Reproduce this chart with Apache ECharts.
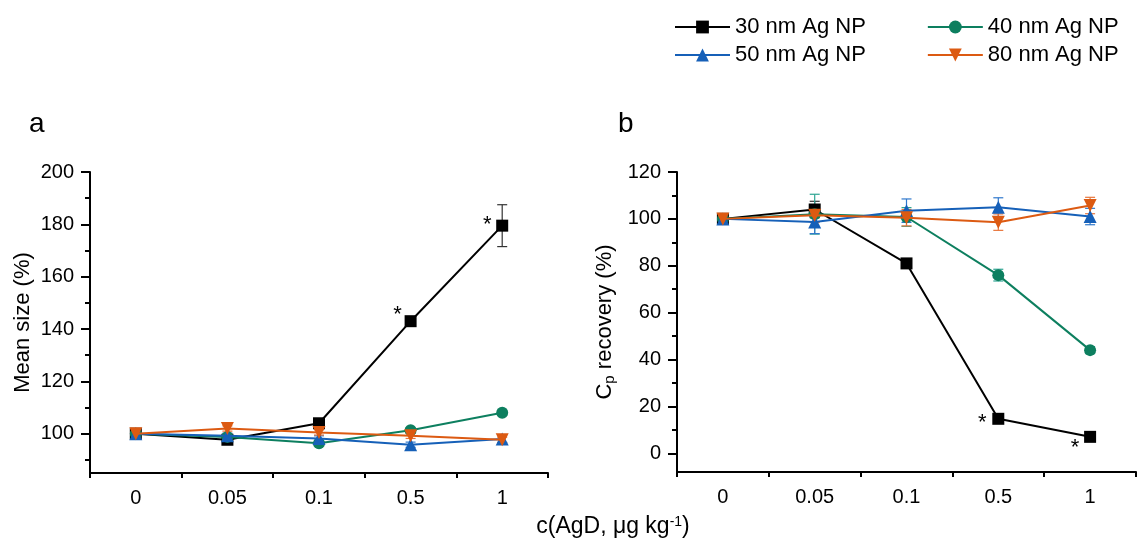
<!DOCTYPE html>
<html><head><meta charset="utf-8">
<script src="https://cdn.jsdelivr.net/npm/echarts@6/dist/echarts.min.js"></script>
<style>html,body{margin:0;padding:0;background:#fff}#c{width:1137px;height:545px}</style>
</head><body><div id="c"></div>
<script>
// ---------- data ----------
const categories = ['0', '0.05', '0.1', '0.5', '1'];
const seriesNames = ['30 nm Ag NP', '40 nm Ag NP', '50 nm Ag NP', '80 nm Ag NP'];

// panel a: Mean size (%)
const sizeNP30 = [100, 97.7, 104, 143, 179.5];
const sizeNP40 = [100, 98.8, 96.4, 101.3, 108];
const sizeNP50 = [100, 99.2, 98.2, 95.8, 98];
const sizeNP80 = [100, 102, 100.5, 99.2, 97.7];
const sizeErr30 = [1, 1, 1.5, 1.5, 8];
const sizeErr40 = [1, 1, 1, 1, 1];
const sizeErr50 = [1.5, 1, 1, 1, 1.5];
const sizeErr80 = [1.5, 1, 1, 1, 1];

// panel b: Cp recovery (%)
const recNP30 = [100, 104, 81, 14.7, 7];
const recNP40 = [100, 102, 100.8, 76, 44];
const recNP50 = [100, 98.7, 103.5, 105, 101];
const recNP80 = [100, 101.5, 100.5, 98.6, 105.7];
const recErr30 = [1.5, 3.5, 1.5, 1.5, 1];
const recErr40 = [1.5, 8.5, 4, 2.5, 1.5];
const recErr50 = [2, 5, 5, 4, 3.5];
const recErr80 = [2, 3, 3.5, 3.5, 3.5];

// axes
const sizeRange = [85, 200];
const sizeTicks = [100, 120, 140, 160, 180, 200];
const sizeMinorTicks = [90, 110, 130, 150, 170, 190];
const recRange = [-8, 120];
const recTicks = [0, 20, 40, 60, 80, 100, 120];
const recMinorTicks = [10, 30, 50, 70, 90, 110];

// significance marks (indices of the 30 nm series)
const sigA = [3, 4];
const sigB = [3, 4];

// ---------- styling ----------
const FONT = "'Liberation Sans', Arial, sans-serif";
const colors = ['#000000', '#0d7f5f', '#1660b8', '#dc5a12'];
const errColors = ['#333333', '#2ea593', '#2f78cc', '#e8763c'];
const symbols = ['rect', 'circle', 'triangle', 'triangle'];
const rotations = [0, 0, 0, 180];
const symSizes = [12, 12, 13, 13];

const chart = echarts.init(document.getElementById('c'), null, {renderer: 'canvas'});

function xAxes(grid) {
  return [
    {type: 'category', gridIndex: grid, position: 'bottom', data: categories, boundaryGap: true,
     axisLine: {onZero: false, lineStyle: {color: '#000', width: 2}},
     axisTick: {alignWithLabel: true, length: 9, lineStyle: {color: '#000', width: 2}},
     axisLabel: {color: '#000', fontSize: 20, fontFamily: FONT, margin: 15},
     splitLine: {show: false}},
    {type: 'category', gridIndex: grid, position: 'bottom', data: categories, boundaryGap: true,
     axisLine: {show: false, onZero: false},
     axisTick: {show: true, alignWithLabel: false, length: 5, lineStyle: {color: '#000', width: 2}},
     axisLabel: {show: false}, splitLine: {show: false}}
  ];
}
function yAxes(grid, range, ticks, minor, name, gap, rich) {
  return [
    {type: 'value', gridIndex: grid, position: 'left', min: range[0], max: range[1],
     name: name, nameLocation: 'middle', nameGap: gap, nameRotate: 90,
     nameTextStyle: {color: '#000', fontSize: 22, fontFamily: FONT, rich: rich},
     axisLine: {show: true, onZero: false, lineStyle: {color: '#000', width: 2}},
     axisTick: {show: true, length: 9, customValues: ticks, lineStyle: {color: '#000', width: 2}},
     axisLabel: {color: '#000', fontSize: 20, fontFamily: FONT, margin: 16, customValues: ticks},
     splitLine: {show: false}},
    {type: 'value', gridIndex: grid, position: 'left', min: range[0], max: range[1],
     axisLine: {show: false, onZero: false},
     axisTick: {show: true, length: 5, customValues: minor, lineStyle: {color: '#000', width: 2}},
     axisLabel: {show: false}, splitLine: {show: false}}
  ];
}

function errRender(params, api) {
  const x = api.value(0), lo = api.value(1), hi = api.value(2);
  const p1 = api.coord([x, hi]), p2 = api.coord([x, lo]);
  const w = 5;
  const st = {stroke: api.visual('color'), lineWidth: 1.2};
  return {type: 'group', children: [
    {type: 'line', shape: {x1: p1[0], y1: p1[1], x2: p2[0], y2: p2[1]}, style: st},
    {type: 'line', shape: {x1: p1[0] - w, y1: p1[1], x2: p1[0] + w, y2: p1[1]}, style: st},
    {type: 'line', shape: {x1: p2[0] - w, y1: p2[1], x2: p2[0] + w, y2: p2[1]}, style: st}
  ]};
}

function panelSeries(grid, values, errs, sig, sigOffsets) {
  const out = [];
  values.forEach((vals, k) => {
    out.push({
      type: 'custom', xAxisIndex: grid * 2, yAxisIndex: grid * 2, renderItem: errRender,
      itemStyle: {color: errColors[k]}, z: 2 + k, silent: true,
      encode: {x: 0, y: [1, 2]},
      data: vals.map((v, i) => [i, v - errs[k][i], v + errs[k][i]])
    });
  });
  values.forEach((vals, k) => {
    out.push({
      type: 'line', name: seriesNames[k], xAxisIndex: grid * 2, yAxisIndex: grid * 2,
      symbol: symbols[k], symbolSize: symSizes[k], symbolRotate: rotations[k],
      showAllSymbol: true,
      lineStyle: {color: colors[k], width: 2}, itemStyle: {color: colors[k]},
      z: 10 + k,
      data: vals.map((v, i) => {
        const si = k === 0 ? sig.indexOf(i) : -1;
        if (si < 0) return v;
        return {value: v, label: {show: true, formatter: '*', position: 'inside',
          offset: sigOffsets[si], color: '#000', fontSize: 22, fontFamily: FONT}};
      })
    });
  });
  return out;
}

const legendCommon = {itemWidth: 55, itemHeight: 16, itemGap: 61, selectedMode: false,
  textStyle: {fontSize: 22, color: '#000', fontFamily: FONT}};

const option = {
  animation: false,
  backgroundColor: '#fff',
  textStyle: {fontFamily: FONT},
  grid: [
    {left: 90, top: 172, width: 458, height: 301, containLabel: false},
    {left: 677, top: 172, width: 459, height: 300, containLabel: false}
  ],
  legend: [
    Object.assign({data: [seriesNames[0], seriesNames[1]], left: 669, top: 11}, legendCommon),
    Object.assign({data: [seriesNames[2], seriesNames[3]], left: 669, top: 39}, legendCommon)
  ],
  xAxis: [...xAxes(0), ...xAxes(1)],
  yAxis: [
    ...yAxes(0, sizeRange, sizeTicks, sizeMinorTicks, 'Mean size (%)', 56, {}),
    ...yAxes(1, recRange, recTicks, recMinorTicks, '{n|C}{s|p}{n| recovery (%)}', 60,
      {n: {fontSize: 22, color: '#000', fontFamily: FONT},
       s: {fontSize: 15, color: '#000', fontFamily: FONT, padding: [9, 0, 0, 0]}})
  ],
  series: [
    ...panelSeries(0, [sizeNP30, sizeNP40, sizeNP50, sizeNP80],
      [sizeErr30, sizeErr40, sizeErr50, sizeErr80], sigA, [[-13, -6], [-15, -1]]),
    ...panelSeries(1, [recNP30, recNP40, recNP50, recNP80],
      [recErr30, recErr40, recErr50, recErr80], sigB, [[-16, 4], [-15, 11]])
  ],
  graphic: [
    {type: 'text', left: 29, top: 110, style: {text: 'a', fontSize: 28, fontFamily: FONT, fill: '#000'}},
    {type: 'text', left: 618, top: 110, style: {text: 'b', fontSize: 28, fontFamily: FONT, fill: '#000'}},
    {type: 'text', x: 613, y: 527, style: {
      text: '{n|c(AgD, μg kg}{sup|-1}{n|)}', align: 'center', verticalAlign: 'middle',
      rich: {n: {fontSize: 23, fontFamily: FONT, fill: '#000', color: '#000'},
             sup: {fontSize: 14, fontFamily: FONT, fill: '#000', color: '#000', padding: [0, 0, 10, 0]}}
    }}
  ]
};
chart.setOption(option);
</script></body></html>
